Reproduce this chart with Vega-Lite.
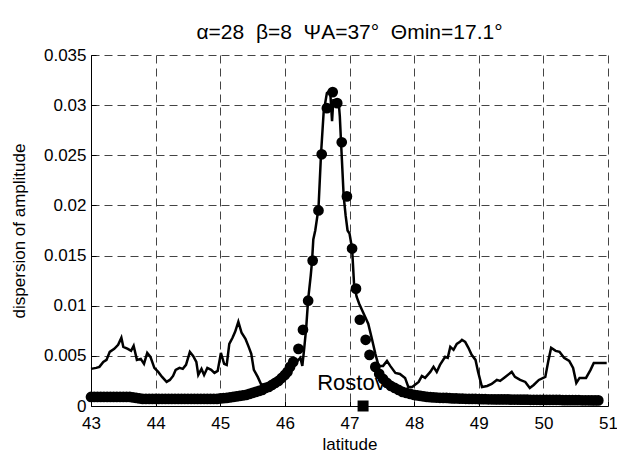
{
  "$schema": "https://vega.github.io/schema/vega-lite/v6.json",
  "width": 517,
  "height": 351,
  "autosize": {"type": "none"},
  "padding": {"left": 91, "top": 55, "right": 9, "bottom": 46},
  "background": "white",
  "config": {
    "font": "Liberation Sans",
    "view": {"stroke": null},
    "axis": {
      "grid": true,
      "gridColor": "#444444",
      "gridDash": [8, 5],
      "gridWidth": 1,
      "gridOpacity": 1,
      "domainColor": "black",
      "domainWidth": 1,
      "tickColor": "black",
      "tickSize": -5,
      "labelFontSize": 17,
      "labelColor": "black",
      "labelFont": "Liberation Sans",
      "titleFont": "Liberation Sans",
      "titleFontSize": 17,
      "titleFontWeight": "normal",
      "titleColor": "black",
      "labelFlush": false,
      "labelOverlap": false
    }
  },
  "title": {
    "text": "α=28\u00a0\u00a0β=8\u00a0\u00a0ΨA=37°\u00a0\u00a0Θmin=17.1°",
    "fontSize": 21,
    "fontWeight": "normal",
    "font": "Liberation Sans",
    "color": "black",
    "anchor": "middle",
    "offset": 3
  },
  "datasets": {
    "observed": [
      {"lat": 43.00, "v": 0.0037}, {"lat": 43.08, "v": 0.0038}, {"lat": 43.13, "v": 0.0039}, {"lat": 43.19, "v": 0.0044},
      {"lat": 43.24, "v": 0.0046}, {"lat": 43.29, "v": 0.0054}, {"lat": 43.36, "v": 0.0057}, {"lat": 43.42, "v": 0.0061},
      {"lat": 43.47, "v": 0.0068}, {"lat": 43.50, "v": 0.0059}, {"lat": 43.57, "v": 0.0057}, {"lat": 43.62, "v": 0.0055},
      {"lat": 43.66, "v": 0.0060}, {"lat": 43.71, "v": 0.0046}, {"lat": 43.77, "v": 0.0047}, {"lat": 43.82, "v": 0.0042},
      {"lat": 43.87, "v": 0.0053}, {"lat": 43.92, "v": 0.0049}, {"lat": 43.98, "v": 0.0038}, {"lat": 44.04, "v": 0.0034},
      {"lat": 44.10, "v": 0.0029}, {"lat": 44.17, "v": 0.0024}, {"lat": 44.22, "v": 0.0026}, {"lat": 44.27, "v": 0.0030},
      {"lat": 44.31, "v": 0.0036}, {"lat": 44.37, "v": 0.0038}, {"lat": 44.42, "v": 0.0037}, {"lat": 44.47, "v": 0.0041},
      {"lat": 44.53, "v": 0.0054}, {"lat": 44.58, "v": 0.0050}, {"lat": 44.63, "v": 0.0044}, {"lat": 44.66, "v": 0.0031},
      {"lat": 44.71, "v": 0.0037}, {"lat": 44.75, "v": 0.0031}, {"lat": 44.80, "v": 0.0038}, {"lat": 44.86, "v": 0.0036},
      {"lat": 44.91, "v": 0.0033}, {"lat": 44.96, "v": 0.0035}, {"lat": 45.01, "v": 0.0053}, {"lat": 45.06, "v": 0.0042},
      {"lat": 45.10, "v": 0.0041}, {"lat": 45.14, "v": 0.0062}, {"lat": 45.19, "v": 0.0068}, {"lat": 45.23, "v": 0.0074},
      {"lat": 45.28, "v": 0.0084}, {"lat": 45.33, "v": 0.0073}, {"lat": 45.39, "v": 0.0067}, {"lat": 45.44, "v": 0.0059},
      {"lat": 45.48, "v": 0.0052}, {"lat": 45.52, "v": 0.0036}, {"lat": 45.58, "v": 0.0029}, {"lat": 45.63, "v": 0.0022},
      {"lat": 45.70, "v": 0.0020}, {"lat": 45.80, "v": 0.0023}, {"lat": 45.90, "v": 0.0028}, {"lat": 46.00, "v": 0.0032},
      {"lat": 46.10, "v": 0.0038}, {"lat": 46.18, "v": 0.0044}, {"lat": 46.24, "v": 0.0048}, {"lat": 46.27, "v": 0.0040},
      {"lat": 46.30, "v": 0.0058}, {"lat": 46.33, "v": 0.0078}, {"lat": 46.36, "v": 0.0106}, {"lat": 46.40, "v": 0.0130},
      {"lat": 46.42, "v": 0.0144}, {"lat": 46.44, "v": 0.0166}, {"lat": 46.47, "v": 0.0175}, {"lat": 46.52, "v": 0.0197},
      {"lat": 46.56, "v": 0.0252}, {"lat": 46.60, "v": 0.0293}, {"lat": 46.65, "v": 0.0312}, {"lat": 46.70, "v": 0.0315},
      {"lat": 46.73, "v": 0.0284}, {"lat": 46.75, "v": 0.0305}, {"lat": 46.83, "v": 0.0305}, {"lat": 46.85, "v": 0.0289},
      {"lat": 46.87, "v": 0.0262}, {"lat": 46.91, "v": 0.0209}, {"lat": 46.94, "v": 0.0190}, {"lat": 46.97, "v": 0.0175},
      {"lat": 47.00, "v": 0.0172}, {"lat": 47.04, "v": 0.0157}, {"lat": 47.07, "v": 0.0122}, {"lat": 47.11, "v": 0.0109},
      {"lat": 47.15, "v": 0.0102}, {"lat": 47.22, "v": 0.0092}, {"lat": 47.29, "v": 0.0082}, {"lat": 47.35, "v": 0.0066},
      {"lat": 47.40, "v": 0.0052}, {"lat": 47.45, "v": 0.0040}, {"lat": 47.52, "v": 0.0040}, {"lat": 47.58, "v": 0.0045},
      {"lat": 47.63, "v": 0.0040}, {"lat": 47.71, "v": 0.0033}, {"lat": 47.78, "v": 0.0032}, {"lat": 47.86, "v": 0.0028},
      {"lat": 47.91, "v": 0.0019}, {"lat": 47.97, "v": 0.0019}, {"lat": 48.07, "v": 0.0024}, {"lat": 48.12, "v": 0.0030},
      {"lat": 48.17, "v": 0.0028}, {"lat": 48.25, "v": 0.0034}, {"lat": 48.30, "v": 0.0039}, {"lat": 48.35, "v": 0.0034},
      {"lat": 48.40, "v": 0.0041}, {"lat": 48.48, "v": 0.0049}, {"lat": 48.52, "v": 0.0048}, {"lat": 48.56, "v": 0.0059},
      {"lat": 48.61, "v": 0.0056}, {"lat": 48.66, "v": 0.0062}, {"lat": 48.71, "v": 0.0064}, {"lat": 48.74, "v": 0.0066},
      {"lat": 48.79, "v": 0.0064}, {"lat": 48.84, "v": 0.0058}, {"lat": 48.89, "v": 0.0051}, {"lat": 48.95, "v": 0.0046},
      {"lat": 48.99, "v": 0.0034}, {"lat": 49.05, "v": 0.0019}, {"lat": 49.13, "v": 0.0020}, {"lat": 49.20, "v": 0.0022},
      {"lat": 49.28, "v": 0.0026}, {"lat": 49.33, "v": 0.0025}, {"lat": 49.41, "v": 0.0029}, {"lat": 49.51, "v": 0.0034},
      {"lat": 49.56, "v": 0.0029}, {"lat": 49.64, "v": 0.0026}, {"lat": 49.72, "v": 0.0024}, {"lat": 49.79, "v": 0.0018},
      {"lat": 49.85, "v": 0.0021}, {"lat": 49.93, "v": 0.0026}, {"lat": 50.03, "v": 0.0029}, {"lat": 50.08, "v": 0.0046},
      {"lat": 50.12, "v": 0.0058}, {"lat": 50.19, "v": 0.0055}, {"lat": 50.25, "v": 0.0054}, {"lat": 50.32, "v": 0.0048},
      {"lat": 50.40, "v": 0.0045}, {"lat": 50.46, "v": 0.0038}, {"lat": 50.51, "v": 0.0023}, {"lat": 50.56, "v": 0.0028},
      {"lat": 50.66, "v": 0.0028}, {"lat": 50.73, "v": 0.0036}, {"lat": 50.78, "v": 0.0043}, {"lat": 50.98, "v": 0.0043}
    ],
    "model": [
      {"lat": 43.00, "v": 0.0009}, {"lat": 43.05, "v": 0.0009}, {"lat": 43.10, "v": 0.0009}, {"lat": 43.15, "v": 0.0009},
      {"lat": 43.20, "v": 0.0009}, {"lat": 43.25, "v": 0.0009}, {"lat": 43.30, "v": 0.0009}, {"lat": 43.35, "v": 0.0009},
      {"lat": 43.40, "v": 0.0009}, {"lat": 43.45, "v": 0.0009}, {"lat": 43.50, "v": 0.0009}, {"lat": 43.55, "v": 0.0009},
      {"lat": 43.60, "v": 0.0009}, {"lat": 43.65, "v": 0.00085}, {"lat": 43.70, "v": 0.0008}, {"lat": 43.75, "v": 0.00075},
      {"lat": 43.80, "v": 0.0007}, {"lat": 43.85, "v": 0.0007}, {"lat": 43.90, "v": 0.0007}, {"lat": 43.95, "v": 0.0007},
      {"lat": 44.00, "v": 0.0007}, {"lat": 44.05, "v": 0.0007}, {"lat": 44.10, "v": 0.0007}, {"lat": 44.15, "v": 0.0007},
      {"lat": 44.20, "v": 0.0007}, {"lat": 44.25, "v": 0.0007}, {"lat": 44.30, "v": 0.0007}, {"lat": 44.35, "v": 0.0007},
      {"lat": 44.40, "v": 0.0007}, {"lat": 44.45, "v": 0.0007}, {"lat": 44.50, "v": 0.0007}, {"lat": 44.55, "v": 0.0007},
      {"lat": 44.60, "v": 0.0007}, {"lat": 44.65, "v": 0.0007}, {"lat": 44.70, "v": 0.0007}, {"lat": 44.75, "v": 0.0007},
      {"lat": 44.80, "v": 0.0007}, {"lat": 44.85, "v": 0.0007}, {"lat": 44.90, "v": 0.0007}, {"lat": 44.95, "v": 0.0007},
      {"lat": 45.00, "v": 0.00075}, {"lat": 45.05, "v": 0.00078}, {"lat": 45.10, "v": 0.0008}, {"lat": 45.15, "v": 0.00085},
      {"lat": 45.20, "v": 0.0009}, {"lat": 45.25, "v": 0.00095}, {"lat": 45.30, "v": 0.001}, {"lat": 45.35, "v": 0.00105},
      {"lat": 45.40, "v": 0.0011}, {"lat": 45.45, "v": 0.0012}, {"lat": 45.50, "v": 0.0013}, {"lat": 45.55, "v": 0.0014},
      {"lat": 45.60, "v": 0.0015}, {"lat": 45.65, "v": 0.0016}, {"lat": 45.70, "v": 0.0018}, {"lat": 45.75, "v": 0.0019},
      {"lat": 45.80, "v": 0.0021}, {"lat": 45.85, "v": 0.0023}, {"lat": 45.90, "v": 0.0025}, {"lat": 45.95, "v": 0.0028},
      {"lat": 46.00, "v": 0.0031}, {"lat": 46.04, "v": 0.0034}, {"lat": 46.08, "v": 0.0039}, {"lat": 46.13, "v": 0.0044},
      {"lat": 46.21, "v": 0.0057}, {"lat": 46.28, "v": 0.0076}, {"lat": 46.36, "v": 0.0105}, {"lat": 46.43, "v": 0.0145},
      {"lat": 46.52, "v": 0.0195}, {"lat": 46.57, "v": 0.0251}, {"lat": 46.65, "v": 0.0297}, {"lat": 46.74, "v": 0.0313},
      {"lat": 46.81, "v": 0.0302}, {"lat": 46.88, "v": 0.0263}, {"lat": 46.96, "v": 0.0209}, {"lat": 47.04, "v": 0.0157},
      {"lat": 47.10, "v": 0.0117}, {"lat": 47.16, "v": 0.0086}, {"lat": 47.25, "v": 0.0066}, {"lat": 47.31, "v": 0.0051},
      {"lat": 47.40, "v": 0.0039}, {"lat": 47.46, "v": 0.0032}, {"lat": 47.52, "v": 0.0027}, {"lat": 47.58, "v": 0.0023},
      {"lat": 47.64, "v": 0.0020}, {"lat": 47.70, "v": 0.0018}, {"lat": 47.76, "v": 0.0016}, {"lat": 47.82, "v": 0.0014},
      {"lat": 47.88, "v": 0.0013}, {"lat": 47.94, "v": 0.0012}, {"lat": 48.00, "v": 0.0011}, {"lat": 48.05, "v": 0.00105},
      {"lat": 48.10, "v": 0.001}, {"lat": 48.15, "v": 0.00095}, {"lat": 48.20, "v": 0.0009}, {"lat": 48.25, "v": 0.00088},
      {"lat": 48.30, "v": 0.00086}, {"lat": 48.35, "v": 0.00084}, {"lat": 48.40, "v": 0.00082}, {"lat": 48.45, "v": 0.0008},
      {"lat": 48.50, "v": 0.0008}, {"lat": 48.55, "v": 0.00078}, {"lat": 48.60, "v": 0.00076}, {"lat": 48.65, "v": 0.00075},
      {"lat": 48.70, "v": 0.00074}, {"lat": 48.75, "v": 0.00073}, {"lat": 48.80, "v": 0.00072}, {"lat": 48.85, "v": 0.00071},
      {"lat": 48.90, "v": 0.0007}, {"lat": 48.95, "v": 0.0007}, {"lat": 49.00, "v": 0.00069}, {"lat": 49.05, "v": 0.00068},
      {"lat": 49.10, "v": 0.00068}, {"lat": 49.15, "v": 0.00067}, {"lat": 49.20, "v": 0.00067}, {"lat": 49.25, "v": 0.00066},
      {"lat": 49.30, "v": 0.00066}, {"lat": 49.35, "v": 0.00065}, {"lat": 49.40, "v": 0.00065}, {"lat": 49.45, "v": 0.00065},
      {"lat": 49.50, "v": 0.00064}, {"lat": 49.55, "v": 0.00064}, {"lat": 49.60, "v": 0.00064}, {"lat": 49.65, "v": 0.00063},
      {"lat": 49.70, "v": 0.00063}, {"lat": 49.75, "v": 0.00063}, {"lat": 49.80, "v": 0.00062}, {"lat": 49.85, "v": 0.00062},
      {"lat": 49.90, "v": 0.00062}, {"lat": 49.95, "v": 0.00061}, {"lat": 50.00, "v": 0.00061}, {"lat": 50.05, "v": 0.00061},
      {"lat": 50.10, "v": 0.0006}, {"lat": 50.15, "v": 0.0006}, {"lat": 50.20, "v": 0.0006}, {"lat": 50.25, "v": 0.0006},
      {"lat": 50.30, "v": 0.00059}, {"lat": 50.35, "v": 0.00059}, {"lat": 50.40, "v": 0.00059}, {"lat": 50.45, "v": 0.00058},
      {"lat": 50.50, "v": 0.00058}, {"lat": 50.55, "v": 0.00058}, {"lat": 50.60, "v": 0.00057}, {"lat": 50.65, "v": 0.00057},
      {"lat": 50.70, "v": 0.00057}, {"lat": 50.75, "v": 0.00056}, {"lat": 50.80, "v": 0.00056}, {"lat": 50.85, "v": 0.00056}
    ],
    "label": [{"lat": 46.5, "v": 0.00155, "name": "Rostov"}],
    "city": [{"lat": 47.21, "v": 0, "name": "Rostov"}]
  },
  "encoding": {
    "x": {
      "field": "lat",
      "type": "quantitative",
      "scale": {"domain": [43, 51], "nice": false, "zero": false},
      "axis": {
        "title": "latitude",
        "values": [43, 44, 45, 46, 47, 48, 49, 50, 51],
        "labelPadding": 14,
        "titlePadding": 5
      }
    },
    "y": {
      "field": "v",
      "type": "quantitative",
      "scale": {"domain": [0, 0.035], "nice": false, "zero": true},
      "axis": {
        "title": "dispersion of amplitude",
        "values": [0, 0.005, 0.01, 0.015, 0.02, 0.025, 0.03, 0.035],
        "format": ".3~f",
        "labelPadding": 10,
        "titlePadding": 15
      }
    }
  },
  "layer": [
    {
      "data": {"name": "label"},
      "mark": {"type": "text", "align": "left", "baseline": "alphabetic", "fontSize": 22, "font": "Liberation Sans", "color": "black"},
      "encoding": {"text": {"field": "name", "type": "nominal"}}
    },
    {
      "data": {"name": "observed"},
      "mark": {"type": "line", "color": "black", "strokeWidth": 2.5}
    },
    {
      "data": {"name": "model"},
      "mark": {"type": "point", "shape": "circle", "filled": true, "color": "black", "opacity": 1, "size": 115}
    },
    {
      "data": {"name": "city"},
      "mark": {"type": "point", "shape": "square", "filled": true, "color": "black", "opacity": 1, "size": 121}
    }
  ]
}
